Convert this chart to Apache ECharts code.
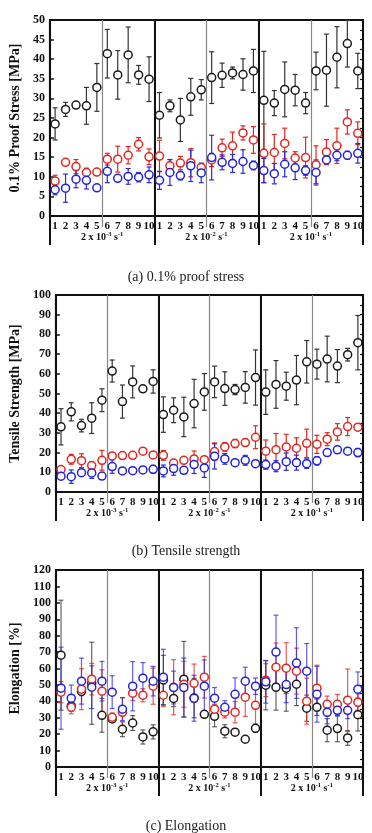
<!DOCTYPE html>
<html>
<head>
<meta charset="utf-8">
<script src="https://cdn.jsdelivr.net/npm/echarts@6/dist/echarts.min.js"></script>
<style>
  html, body { margin: 0; padding: 0; background: #fff; }
  #chart { width: 372px; height: 833px; }
</style>
</head>
<body>
<div id="chart"></div>
<script>
// tick labels and groups
const tickLabels = ['1', '2', '3', '4', '5', '6', '7', '8', '9', '10'];
const rateExp = ['-3', '-2', '-1'];
const captions = ['(a) 0.1% proof stress', '(b) Tensile strength', '(c) Elongation'];
const yNames = ['0.1% Proof Stress [MPa]', 'Tensile Strength [MPa]', 'Elongation [%]'];

// (a) 0.1% proof stress
const proofBlack = [23.5, 27.2, 28.3, 28.1, 32.8, 41.4, 36.0, 41.1, 36.0, 34.9, 25.7, 28.1, 24.5, 30.4, 32.2, 35.3, 35.9, 36.5, 36.1, 37.0, 29.5, 28.8, 32.3, 32.1, 28.8, 37.0, 37.2, 40.5, 44.0, 37.0];
const proofBlackErr = [4.1, 1.8, 0.5, 4.7, 6.1, 6.2, 6.2, 7.1, 2.4, 5.7, 5.8, 1.5, 5.5, 4.7, 2.6, 6.6, 3.1, 1.5, 4.0, 5.5, 12.5, 3.2, 7.0, 4.0, 2.7, 4.8, 9.2, 7.8, 6.0, 4.5];
const proofRed = [8.9, 13.7, 12.6, 11.1, 11.2, 14.5, 14.5, 15.5, 18.3, 15.1, 15.3, 12.8, 13.5, 13.6, 12.4, 14.3, 17.4, 17.9, 21.2, 19.4, 16.0, 16.2, 18.5, 14.8, 14.9, 13.1, 16.3, 17.9, 24.0, 21.1];
const proofRedErr = [1.5, 0.6, 1.8, 1.1, 0.7, 1.5, 3.3, 2.2, 1.7, 2.0, 4.0, 1.6, 1.7, 3.6, 0.9, 1.7, 2.2, 3.5, 1.8, 3.4, 7.5, 4.6, 3.9, 1.6, 5.2, 4.8, 3.2, 4.5, 3.1, 2.9];
const proofBlue = [6.7, 7.1, 9.4, 9.1, 7.2, 11.4, 9.6, 10.1, 9.9, 10.5, 9.1, 11.1, 10.3, 12.8, 11.0, 14.9, 13.7, 13.4, 13.9, 12.9, 11.6, 10.8, 13.2, 12.3, 11.6, 11.1, 14.3, 15.5, 15.5, 16.0];
const proofBlueErr = [1.3, 3.6, 2.2, 2.2, 0.7, 2.9, 0.6, 2.0, 1.2, 2.0, 2.3, 3.3, 1.1, 4.0, 2.5, 5.7, 1.9, 2.3, 3.0, 1.1, 3.1, 2.6, 3.2, 3.0, 1.2, 3.2, 0.9, 1.4, 1.0, 2.5];

// (b) tensile strength
const tensileBlack = [33.1, 40.7, 33.7, 37.5, 46.6, 61.4, 45.9, 55.9, 52.4, 56.1, 39.3, 41.5, 38.1, 44.9, 50.8, 55.9, 52.5, 52.0, 53.1, 58.1, 50.7, 54.6, 53.7, 56.8, 66.1, 64.9, 67.5, 63.9, 69.7, 75.8];
const tensileBlackErr = [9.2, 4.6, 3.2, 7.8, 5.8, 5.6, 8.4, 8.1, 1.5, 5.9, 9.0, 6.3, 10.0, 12.3, 9.3, 8.0, 8.5, 2.6, 8.0, 14.0, 11.3, 12.1, 7.1, 12.5, 10.8, 7.6, 11.6, 8.4, 3.2, 13.8];
const tensileRed = [11.4, 16.6, 15.9, 13.4, 16.1, 18.3, 18.5, 18.6, 20.7, 18.8, 18.6, 14.7, 16.1, 16.8, 16.4, 20.5, 22.9, 24.6, 25.1, 27.8, 20.7, 21.5, 22.9, 22.2, 24.7, 24.2, 26.8, 30.5, 33.2, 32.9];
const tensileRedErr = [0.5, 2.5, 3.5, 1.9, 5.0, 1.2, 0.6, 0.8, 0.8, 0.8, 2.5, 1.4, 0.6, 4.0, 1.4, 4.4, 2.2, 2.1, 2.0, 5.8, 5.7, 8.2, 6.4, 5.3, 7.2, 4.6, 3.3, 4.2, 4.6, 0.8];
const tensileBlue = [8.0, 7.8, 9.8, 9.7, 8.1, 12.9, 10.7, 10.8, 11.2, 11.5, 10.7, 11.9, 11.0, 13.9, 12.2, 18.1, 16.8, 14.9, 16.1, 14.4, 13.9, 13.1, 15.4, 14.9, 14.4, 15.8, 20.0, 21.4, 20.7, 20.0];
const tensileBlueErr = [1.7, 3.4, 1.7, 2.8, 0.7, 3.4, 0.8, 1.4, 1.2, 2.0, 3.0, 3.4, 1.7, 4.5, 4.8, 6.4, 2.7, 1.3, 2.5, 1.0, 2.3, 2.8, 4.4, 3.8, 2.4, 2.1, 1.0, 1.0, 1.0, 2.1];

// (c) elongation
const elongBlack = [68.1, 37.2, 46.0, 51.0, 31.5, 29.3, 23.0, 26.8, 18.3, 21.4, 53.0, 41.8, 53.5, 42.0, 32.1, 30.9, 21.8, 21.2, 16.9, 23.6, 49.8, 48.6, 48.0, 50.4, 35.8, 36.4, 22.4, 23.4, 17.7, 31.9];
const elongBlackErr = [33.5, 1.7, 2.5, 25.0, 10.3, 1.3, 4.5, 4.5, 4.3, 4.3, 15.0, 5.0, 23.0, 12.0, 1.5, 6.4, 4.0, 2.0, 1.5, 2.5, 15.0, 14.0, 14.0, 13.0, 8.0, 5.0, 7.0, 8.0, 4.5, 10.0];
const elongRed = [45.6, 36.4, 47.4, 53.5, 46.2, 30.3, 33.3, 45.0, 43.7, 49.2, 43.7, 48.6, 50.4, 51.0, 54.7, 35.2, 33.4, 33.4, 42.5, 37.6, 52.9, 60.8, 60.2, 58.4, 40.1, 48.0, 38.2, 38.2, 40.7, 39.5];
const elongRedErr = [6.5, 4.0, 12.5, 9.6, 13.0, 2.5, 9.0, 4.5, 4.0, 11.0, 7.0, 16.8, 14.0, 11.7, 12.7, 3.0, 3.5, 6.5, 11.7, 12.2, 10.0, 14.7, 15.5, 14.0, 14.0, 14.0, 5.0, 6.0, 19.0, 5.0];
const elongBlue = [48.0, 41.9, 52.3, 48.6, 52.3, 45.6, 35.2, 49.2, 54.1, 52.3, 54.7, 48.4, 48.4, 41.9, 49.2, 41.9, 36.4, 44.3, 52.3, 49.2, 51.9, 70.0, 50.2, 63.3, 58.4, 44.3, 33.3, 34.5, 34.5, 47.4];
const elongBlueErr = [25.0, 8.0, 14.0, 13.0, 12.0, 10.0, 7.0, 15.0, 9.5, 9.0, 17.0, 10.0, 18.0, 14.0, 16.0, 6.5, 4.0, 10.0, 8.5, 5.0, 13.0, 22.5, 11.0, 21.5, 16.8, 17.0, 7.0, 3.5, 5.0, 10.5];

const yMax = [50, 100, 120];
const yStep = [5, 10, 10];

const panels = [
    [[proofBlack, proofBlackErr], [proofRed, proofRedErr], [proofBlue, proofBlueErr]],
    [[tensileBlack, tensileBlackErr], [tensileRed, tensileRedErr], [tensileBlue, tensileBlueErr]],
    [[elongBlack, elongBlackErr], [elongRed, elongRedErr], [elongBlue, elongBlueErr]]
];

const FONT = 'Liberation Serif';
const colors = ['#1a1a1a', '#e3261f', '#2222dd'];
const barColors = ['#333333', '#e3261f', '#2a2ae0'];

const categories = [];
rateExp.forEach((e, g) => tickLabels.forEach((t, i) => categories.push(g * 10 + i)));
const halves = ['', '', '', '', '', ''];

const grids = [
    {left: 43, top: 20, width: 320, height: 196},
    {left: 46, top: 295, width: 317, height: 197},
    {left: 46, top: 570, width: 317, height: 197}
];
const nameGaps = [26, 30, 31];

function errRender(color, opacity) {
    return function (params, api) {
        const x = api.value(0);
        const hi = api.coord([x, api.value(2)]);
        const lo = api.coord([x, api.value(1)]);
        const w = 2.5;
        const style = {stroke: color, lineWidth: 1.2, opacity: opacity};
        return {
            type: 'group',
            children: [
                {type: 'line', shape: {x1: hi[0], y1: hi[1], x2: lo[0], y2: lo[1]}, style: style},
                {type: 'line', shape: {x1: hi[0] - w, y1: hi[1], x2: hi[0] + w, y2: hi[1]}, style: style},
                {type: 'line', shape: {x1: lo[0] - w, y1: lo[1], x2: lo[0] + w, y2: lo[1]}, style: style}
            ]
        };
    };
}

const xAxis = [], yAxis = [], series = [], title = [];
const captionTop = [265, 539, 814];

grids.forEach((g, i) => {
    xAxis.push({
        type: 'category', gridIndex: i, data: categories, position: 'bottom',
        axisLine: {show: false}, axisTick: {show: false}, splitLine: {show: false},
        axisLabel: {
            interval: 0, margin: 5, fontFamily: FONT, fontWeight: 'bold', fontSize: 11, color: '#111',
            formatter: (v, idx) => tickLabels[idx % 10]
        }
    });
    xAxis.push({
        type: 'category', gridIndex: i, data: halves, position: 'bottom',
        axisLine: {show: false}, axisLabel: {show: false},
        axisTick: {show: true, interval: 0, length: 11, lineStyle: {color: '#888', width: 1.2}},
        splitLine: {show: true, interval: 0, lineStyle: {color: '#888', width: 1.2}}
    });
    xAxis.push({
        type: 'category', gridIndex: i, data: rateExp, position: 'bottom', z: 3,
        axisLine: {show: false},
        axisTick: {show: true, interval: 0, length: 29, lineStyle: {color: '#111', width: 2}},
        splitLine: {show: true, interval: 0, lineStyle: {color: '#111', width: 2}},
        axisLabel: {
            interval: 0, margin: 15,
            formatter: v => '{b|2 x 10}{s|' + v + '}{b| s}{s|-1}',
            rich: {
                b: {fontFamily: FONT, fontWeight: 'bold', fontSize: 10, color: '#111', lineHeight: 12},
                s: {fontFamily: FONT, fontWeight: 'bold', fontSize: 6.5, color: '#111', verticalAlign: 'top', lineHeight: 12}
            }
        }
    });
    yAxis.push({
        type: 'value', gridIndex: i, min: 0, max: yMax[i], interval: yStep[i], position: 'left',
        axisLine: {show: false}, splitLine: {show: false},
        axisTick: {show: true, inside: true, length: 4, lineStyle: {color: '#111', width: 1.5}},
        axisLabel: {margin: 5, fontFamily: FONT, fontWeight: 'bold', fontSize: 12, color: '#111'},
        name: yNames[i], nameLocation: 'middle', nameGap: nameGaps[i],
        nameTextStyle: {fontFamily: FONT, fontWeight: 'bold', fontSize: 14, color: '#111'}
    });
    yAxis.push({
        type: 'value', gridIndex: i, min: 0, max: yMax[i], interval: yStep[i] / 2, position: 'right',
        axisLine: {show: false}, splitLine: {show: false}, axisLabel: {show: false},
        axisTick: {show: true, inside: true, length: 3, lineStyle: {color: '#111', width: 1.2}}
    });
    title.push({
        text: captions[i], left: 'center', top: captionTop[i],
        textStyle: {fontFamily: FONT, fontWeight: 'normal', fontSize: 14, color: '#222'}
    });

    panels[i].forEach((pair, s) => {
        const vals = pair[0], errs = pair[1];
        series.push({
            type: 'custom', xAxisIndex: i * 3, yAxisIndex: i * 2, z: 2,
            renderItem: errRender(barColors[s], i === 2 ? 0.75 : 1),
            encode: {x: 0, y: [1, 2]},
            data: vals.map((v, k) => [k, v - errs[k], v + errs[k]])
        });
    });
    panels[i].forEach((pair, s) => {
        series.push({
            type: 'scatter', xAxisIndex: i * 3, yAxisIndex: i * 2, z: 3,
            symbol: 'circle', symbolSize: 8,
            itemStyle: {color: '#fff', borderColor: colors[s], borderWidth: 1.5, opacity: 1},
            data: pair[0].map((v, k) => [k, v])
        });
    });
});

const chart = echarts.init(document.getElementById('chart'));
chart.setOption({
    animation: false,
    backgroundColor: '#fff',
    title: title,
    grid: grids.map(g => Object.assign({show: true, borderColor: '#111', borderWidth: 2, backgroundColor: 'transparent'}, g)),
    xAxis: xAxis,
    yAxis: yAxis,
    series: series
});
</script>
</body>
</html>
